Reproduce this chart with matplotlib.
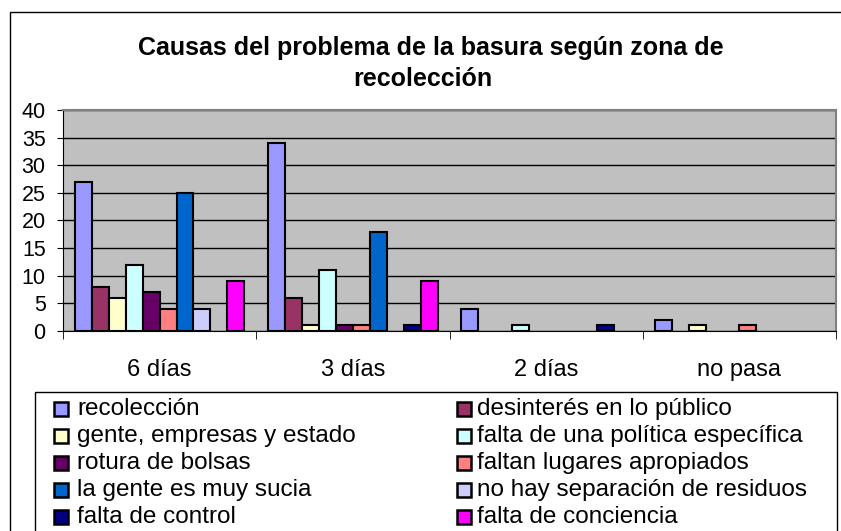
import matplotlib.pyplot as plt
import matplotlib.patches as mpatches
import numpy as np

plt.rcParams['font.family'] = ['Liberation Sans', 'DejaVu Sans']

# Datos del grafico
zonas = ['6 días', '3 días', '2 días', 'no pasa']
causas = ['recolección', 'desinterés en lo público', 'gente, empresas y estado',
          'falta de una política específica', 'rotura de bolsas',
          'faltan lugares apropiados', 'la gente es muy sucia',
          'no hay separación de residuos', 'falta de control',
          'falta de conciencia']
recoleccion = [27, 34, 4, 2]
desinteres = [8, 6, 0, 0]
gente_empresas = [6, 1, 0, 1]
politica = [12, 11, 1, 0]
rotura = [7, 1, 0, 0]
lugares = [4, 1, 0, 1]
gente_sucia = [25, 18, 0, 0]
separacion = [4, 0, 0, 0]
control = [0, 1, 1, 0]
conciencia = [9, 9, 0, 0]
series = [recoleccion, desinteres, gente_empresas, politica, rotura,
          lugares, gente_sucia, separacion, control, conciencia]
colores = ['#9999FF', '#993366', '#FFFFCC', '#CCFFFF', '#660066',
           '#FF8080', '#0066CC', '#CCCCFF', '#000080', '#FF00FF']

W, H = 841, 531
fig = plt.figure(figsize=(W / 100, H / 100), dpi=100)

def fx(px):
    return px / W

def fy(py):
    return 1 - py / H

# Marco exterior del grafico
fig.patches.append(mpatches.Rectangle((fx(9.5), fy(600)), fx(900), fy(12) - fy(600),
                                      transform=fig.transFigure, fill=False,
                                      edgecolor='black', linewidth=1))

# Titulo
fig.text(fx(431), fy(48), 'Causas del problema de la basura según zona de',
         ha='center', va='center', fontsize=18, fontweight='bold')
fig.text(fx(423), fy(79), 'recolección', ha='center', va='center',
         fontsize=18, fontweight='bold')

# Area de trazado
ax = fig.add_axes([fx(63), fy(331), fx(836) - fx(63), fy(110) - fy(331)])
ax.set_facecolor('#C0C0C0')

x = np.arange(len(zonas))
ancho = 0.0876
for i, (vals, col) in enumerate(zip(series, colores)):
    v = np.array(vals, dtype=float)
    v[v == 0] = np.nan  # Excel no dibuja las barras con valor cero
    ax.bar(x + (i - 4.5) * ancho, v, ancho, color=col, edgecolor='black',
           linewidth=1.5, label=causas[i], zorder=3)

ax.set_ylim(0, 40)
ax.set_yticks(range(0, 41, 5))
ax.yaxis.grid(True, color='black', linewidth=1, zorder=1)
ax.set_axisbelow(True)
ax.tick_params(axis='y', labelsize=15.5, length=4.5, direction='out', pad=8)

ax.set_xlim(-0.5, 3.5)
ax.set_xticks(x)
ax.set_xticklabels(zonas, fontsize=17)
ax.tick_params(axis='x', length=0, pad=20)
ax.set_xticks(np.arange(-0.5, 4, 1), minor=True)
ax.tick_params(axis='x', which='minor', length=6, direction='out')

for lado in ['top', 'right']:
    ax.spines[lado].set_color('#808080')
    ax.spines[lado].set_linewidth(1.5)
for lado in ['left', 'bottom']:
    ax.spines[lado].set_color('black')

# Leyenda (dos columnas, orden por filas como en Excel)
fig.patches.append(mpatches.Rectangle((fx(35), fy(600)), fx(837) - fx(35), fy(392) - fy(600),
                                      transform=fig.transFigure, fill=False,
                                      edgecolor='black', linewidth=1))
col_x = [(53, 77), (456, 477)]
for i, (nombre, col) in enumerate(zip(causas, colores)):
    mx, tx = col_x[i % 2]
    yc = 408 + (i // 2) * 27
    fig.patches.append(mpatches.Rectangle((fx(mx + 1), fy(yc + 8)), fx(14), fy(yc - 6) - fy(yc + 8),
                                          transform=fig.transFigure, facecolor=col,
                                          edgecolor='black', linewidth=1.8))
    fig.text(fx(tx), fy(yc + 1), nombre, ha='left', va='center', fontsize=17.5)

fig.savefig('out.png', dpi=100)
